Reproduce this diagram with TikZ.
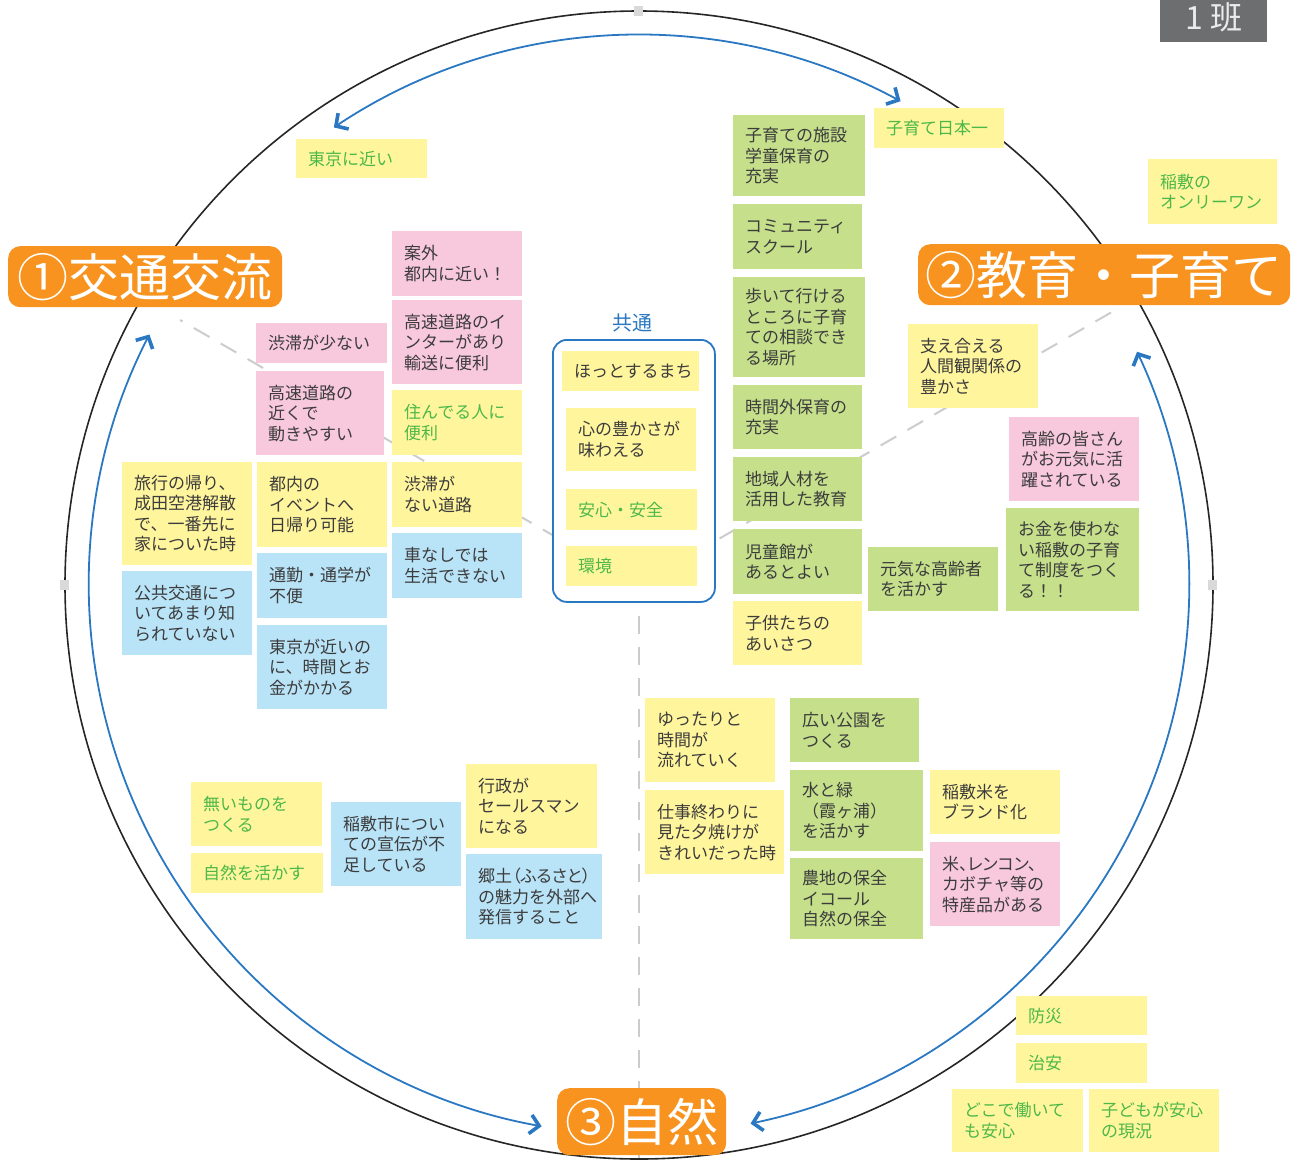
\documentclass[tikz,border=0pt]{standalone}
\usepackage{fontspec}
\setmainfont{Noto Sans CJK JP}
\newfontfamily\narrowjp{Noto Sans CJK JP}[RawFeature=+palt]
\usetikzlibrary{arrows.meta,calc}
\definecolor{noteyellow}{HTML}{FFF59D}
\definecolor{notepink}{HTML}{F8C8DC}
\definecolor{notegreen}{HTML}{C5DF8B}
\definecolor{noteblue}{HTML}{B9E3F7}
\definecolor{themeorange}{HTML}{F7931E}
\definecolor{arrowblue}{HTML}{2A78C2}
\definecolor{inkgray}{HTML}{3C3C3C}
\definecolor{inkgreen}{HTML}{4CB848}
\definecolor{bangray}{HTML}{6D6E70}

\begin{document}
\begin{tikzpicture}[x=1pt, y=-1pt,
    note/.style 2 args={anchor=north west, inner sep=0pt, minimum width=#1pt,
        minimum height=#2pt, text width=#1pt-24pt, align=left, text=inkgray,
        font=\fontsize{17}{20.5}\selectfont},
    yel/.style={fill=noteyellow},
    pnk/.style={fill=notepink},
    grn/.style={fill=notegreen},
    blu/.style={fill=noteblue},
    gtext/.style={text=inkgreen},
    theme/.style 2 args={anchor=north west, inner sep=0pt, minimum width=#1pt,
        minimum height=#2pt, fill=themeorange, rounded corners=12pt, text=white,
        font=\fontsize{51}{53}\selectfont},
    divider/.style={draw=black!20, line width=2pt, dash pattern=on 18pt off 13pt},
    rim/.style={draw=black!85, line width=1.6pt},
    flow/.style={draw=arrowblue, line width=1.8pt,
        >={Straight Barb[length=9pt, width=19pt, line width=3.6pt]}, <->},
    handle/.style={fill=black!15}]
        \useasboundingbox (0,0) rectangle (1300,1160);
        % Circle
        \coordinate (hub) at (639,585);
        \coordinate (end1) at ($(hub)+(210:530)$);
        \coordinate (end2) at ($(hub)+(-30:555)$);
        \coordinate (end3) at (639,1160);
        \draw [divider] (hub) -- (end1);
        \draw [divider] (hub) -- (end2);
        \draw [divider] (hub) -- (end3);
        \draw [rim] (hub) circle [radius=574];
        \fill [handle] (634,6) rectangle (643,16);
        \fill [handle] (60,580) rectangle (69,590);
        \fill [handle] (1208,580) rectangle (1217,590);
        % Arrows
        \draw [flow] ($(hub)+(-123.7:550)$) arc [start angle=-123.7, end angle=-61.6, radius=550];
        \draw [flow] ($(hub)+(207.1:550)$) arc [start angle=207.1, end angle=100.2, radius=550];
        \draw [flow] ($(hub)+(-25.1:550)$) arc [start angle=-25.1, end angle=78.3, radius=550];
        % Common
        \node [draw=arrowblue, line width=1.8pt, rounded corners=14pt, fill=white,
            anchor=north west, minimum width=162pt, minimum height=262pt] (common) at (552,339) {};
        \node [text=arrowblue, font=\fontsize{20}{20}\selectfont] (commonlabel) at (632,323) {共通};
        \node [note={137}{40}, yel] (hotto) at (562,351) {ほっとするまち};
        \node [note={130}{63}, yel] (kokoro) at (566,408) {心の豊かさが\\味わえる};
        \node [note={131}{41}, yel, gtext] (anshin) at (566,489) {安心・安全};
        \node [note={131}{40}, yel, gtext] (kankyo) at (566,546) {環境};
        % Traffic
        \node [note={131}{39}, yel, gtext] (tokyo) at (296,139) {東京に近い};
        \node [note={130}{65}, pnk] (angai) at (392,231) {案外\\都内に近い！};
        \node [note={130}{84}, pnk] (inter) at (392,300) {高速道路のイ\\ンターがあり\\輸送に便利};
        \node [note={131}{40}, pnk] (jutai) at (256,323) {渋滞が少ない};
        \node [note={128}{84}, pnk] (kosoku) at (256,371) {高速道路の\\近くで\\動きやすい};
        \node [note={130}{65}, yel, gtext] (sunderu) at (392,390) {住んでる人に\\便利};
        \node [note={130}{103}, yel] (ryoko) at (122,462) {旅行の帰り、\\成田空港解散\\で、一番先に\\家についた時};
        \node [note={130}{85}, yel] (tonai) at (257,462) {都内の\\イベントへ\\日帰り可能};
        \node [note={130}{65}, yel] (douro) at (392,462) {渋滞が\\ない道路};
        \node [note={130}{84}, blu] (kokyo) at (122,571) {公共交通につ\\いてあまり知\\られていない};
        \node [note={130}{65}, blu] (tsukin) at (257,553) {通勤・通学が\\不便};
        \node [note={130}{65}, blu] (kuruma) at (392,533) {車なしでは\\生活できない};
        \node [note={130}{84}, blu] (jikan) at (257,625) {東京が近いの\\に、時間とお\\金がかかる};
        % Education
        \node [note={132}{81}, grn] (shisetsu) at (733,115) {子育ての施設\\学童保育の\\充実};
        \node [note={130}{40}, yel, gtext] (nihonichi) at (874,108) {子育て日本一};
        \node [note={129}{65}, grn] (community) at (733,204) {コミュニティ\\スクール};
        \node [note={132}{100}, grn] (soudan) at (733,277) {歩いて行ける\\ところに子育\\ての相談でき\\る場所};
        \node [note={129}{64}, grn] (jikangai) at (733,385) {時間外保育の\\充実};
        \node [note={129}{64}, grn] (chiiki) at (733,457) {地域人材を\\活用した教育};
        \node [note={129}{65}, grn] (jidokan) at (733,529) {児童館が\\あるとよい};
        \node [note={129}{64}, yel] (aisatsu) at (733,601) {子供たちの\\あいさつ};
        \node [note={129}{65}, yel, gtext] (onlyone) at (1148,159) {稲敷の\\オンリーワン};
        \node [note={130}{84}, yel] (sasae) at (908,324) {支え合える\\人間観関係の\\豊かさ};
        \node [note={130}{84}, pnk] (korei) at (1009,417) {高齢の皆さん\\がお元気に活\\躍されている};
        \node [note={130}{64}, grn] (genki) at (868,547) {元気な高齢者\\を活かす};
        \node [note={133}{103}, grn] (seido) at (1006,508) {お金を使わな\\い稲敷の子育\\て制度をつく\\る！！};
        % Nature
        \node [note={130}{84}, yel] (yuttari) at (645,698) {ゆったりと\\時間が\\流れていく};
        \node [note={129}{64}, grn] (koen) at (790,698) {広い公園を\\つくる};
        \node [note={139}{84}, yel] (yuyake) at (645,790) {仕事終わりに\\見た夕焼けが\\きれいだった時};
        \node [note={133}{81}, grn] (mizu) at (790,770) {水と緑\\（霞ヶ浦）\\を活かす};
        \node [note={130}{64}, yel] (brand) at (930,770) {稲敷米を\\ブランド化};
        \node [note={133}{81}, grn] (nochi) at (790,858) {農地の保全\\イコール\\自然の保全};
        \node [note={130}{84}, pnk] (tokusan) at (930,842) {{\narrowjp 米、レンコン、}\\カボチャ等の\\特産品がある};
        \node [note={131}{84}, yel] (gyosei) at (466,764) {行政が\\セールスマン\\になる};
        \node [note={136}{85}, blu] (kyodo) at (466,854) {{\narrowjp 郷土（ふるさと）}\\の魅力を外部へ\\発信すること};
        \node [note={130}{84}, blu] (senden) at (331,802) {稲敷市につい\\ての宣伝が不\\足している};
        \node [note={131}{64}, yel, gtext] (naimono) at (191,782) {無いものを\\つくる};
        \node [note={132}{40}, yel, gtext] (ikasu) at (191,853) {自然を活かす};
        % Safety
        \node [note={131}{39}, yel, gtext] (bosai) at (1016,996) {防災};
        \node [note={131}{40}, yel, gtext] (chian) at (1016,1043) {治安};
        \node [note={131}{63}, yel, gtext] (dokode) at (952,1089) {どこで働いて\\も安心};
        \node [note={130}{63}, yel, gtext] (kodomo) at (1089,1089) {子どもが安心\\の現況};
        % Themes
        \node [theme={274}{61}] (traffic) at (8,246) {①交通交流};
        \node [theme={372}{61}] (education) at (918,244) {②教育・子育て};
        \node [theme={169}{67}] (nature) at (557,1088) {③自然};
        \node [anchor=north west, fill=bangray, minimum width=107pt, minimum height=50pt,
            inner sep=0pt, text=white!92!black, font=\fontsize{32}{32}\selectfont] (team) at (1160,-8) {1 班};
\end{tikzpicture}
\end{document}
